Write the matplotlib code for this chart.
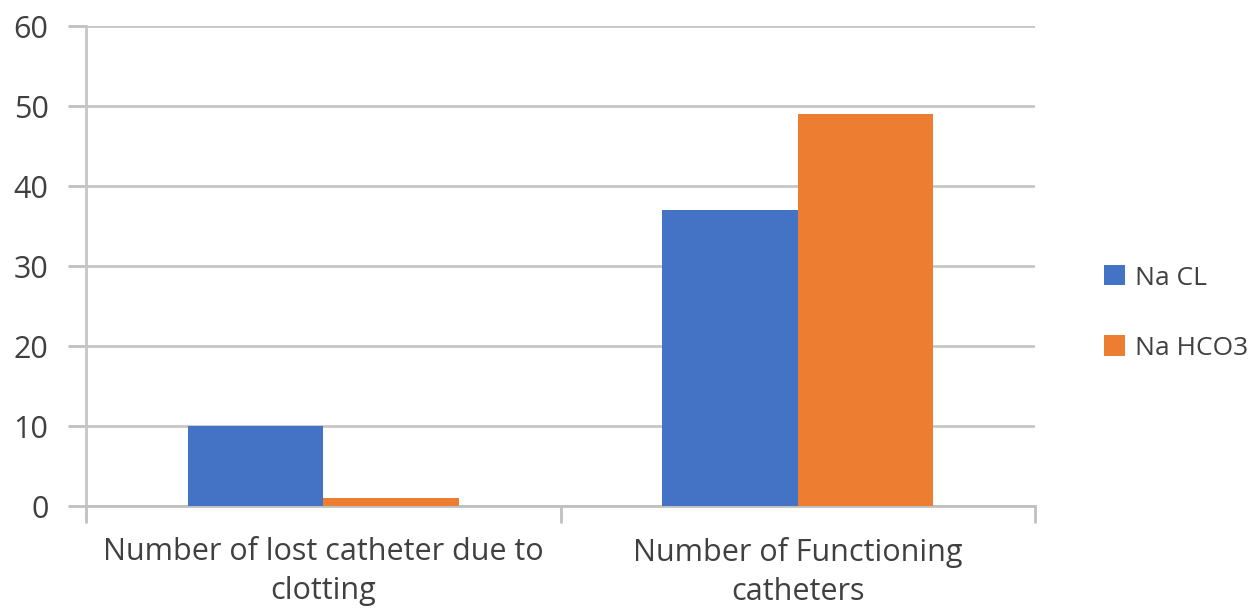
import matplotlib.pyplot as plt
import numpy as np

# Chart data
categories = ["Number of lost catheter due to\nclotting", "Number of Functioning\ncatheters"]
series_names = ["Na CL", "Na HCO3"]
na_cl = [10, 37]
na_hco3 = [1, 49]
colors = ["#4472C4", "#ED7D31"]

plt.rcParams["font.family"] = ["Open Sans", "DejaVu Sans"]

fig = plt.figure(figsize=(12.51, 6.11), dpi=100)
ax = fig.add_axes([86 / 1251, 1 - 506 / 611, (1035 - 86) / 1251, (506 - 26) / 611])

x = np.arange(len(categories))
width = 0.286
ax.bar(x - width / 2, na_cl, width, color=colors[0], label=series_names[0], zorder=3)
ax.bar(x + width / 2, na_hco3, width, color=colors[1], label=series_names[1], zorder=3)

ax.set_xlim(-0.5, 1.5)
ax.set_ylim(0, 60)
ax.set_yticks(range(0, 61, 10))
ax.set_xticks(x)
ax.set_xticklabels(categories, fontsize=22, color="#404040", linespacing=1.4)
ax.tick_params(axis="x", length=0, pad=22)
ax.set_xticks([-0.5, 0.5, 1.5], minor=True)
ax.tick_params(axis="x", which="minor", length=12, color="#C0C0C0", width=2)
ax.tick_params(axis="y", length=13, color="#C0C0C0", width=2, labelsize=22,
               labelcolor="#404040", pad=14)

ax.grid(axis="y", color="#C6C6C6", linewidth=2, zorder=0)
for side in ["top", "right"]:
    ax.spines[side].set_visible(False)
ax.spines["left"].set_color("#C6C6C6")
ax.spines["left"].set_linewidth(2)
ax.spines["bottom"].set_color("#C0C0C0")
ax.spines["bottom"].set_linewidth(2)

ax.legend(loc="center left", bbox_to_anchor=(1080 / 1251, 1 - 313 / 611),
          bbox_transform=fig.transFigure, frameon=False, fontsize=19,
          handlelength=0.8, handleheight=0.8, handletextpad=0.4,
          labelspacing=1.7, labelcolor="#404040")

fig.savefig("out.png", dpi=100)
